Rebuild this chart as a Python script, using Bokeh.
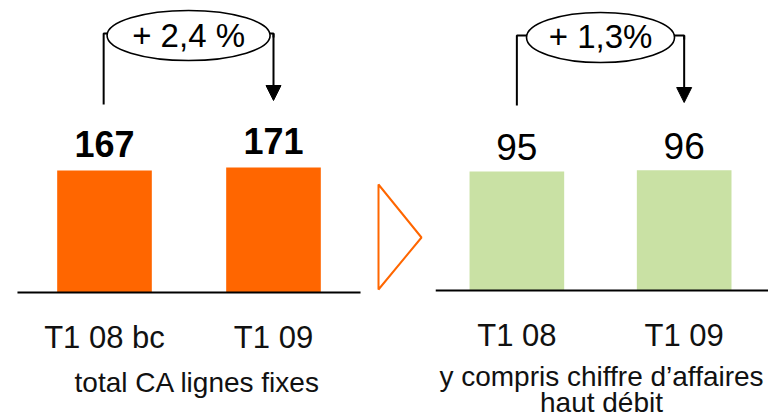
from bokeh.plotting import figure
from bokeh.models import Range1d, Arrow, NormalHead
from bokeh.core.properties import value
from bokeh.embed import file_html
from bokeh.resources import INLINE
import numpy as np

# ---- data ----
left_categories = ["T1 08 bc", "T1 09"]
left_values = [167, 171]
left_change = "+ 2,4 %"
left_title = ["total CA lignes fixes"]

right_categories = ["T1 08", "T1 09"]
right_values = [95, 96]
right_change = "+ 1,3%"
right_title = ["y compris chiffre d\u2019affaires", "haut d\u00e9bit"]

# ---- layout / styles ----
W, H = 768, 419
ORANGE = "#FF6600"
GREEN = "#C9E1A4"
FONT = value("Liberation Sans")

# x: one unit = spacing between two bars of a group
UNIT = 169.0
X0 = 104.0                       # page x of first bar centre
# y: separate scales for the two panels (truncated bars as in source)
L_BASE, L_K = 292.0, 0.7305      # baseline page y, px per unit
R_BASE, R_K = 290.0, 1.2527

p = figure(width=W, height=H, output_backend="svg", toolbar_location=None,
           min_border=0, x_axis_location=None, y_axis_location=None,
           x_range=Range1d(-X0 / UNIT, (W - X0) / UNIT),
           y_range=Range1d(-(H - L_BASE) / L_K, L_BASE / L_K))
p.extra_y_ranges = {"r": Range1d(-(H - R_BASE) / R_K, R_BASE / R_K)}
p.grid.visible = False
p.outline_line_color = None
p.background_fill_color = "white"

LR = p.y_range
RR = p.extra_y_ranges["r"]

def sx(s):
    r = p.x_range
    return r.start + s * (r.end - r.start) / W

def sy(s, rng=LR):
    return rng.start + (H - s) * (rng.end - rng.start) / H

def dpx(px, rng):
    return px * (rng.end - rng.start) / H

def base_fix(fs):
    # svg text baseline compensation (px upward)
    return 0.33 * fs

GROUP2 = 2.44
left_x = np.arange(len(left_values)) * 1.0
right_x = GROUP2 + np.arange(len(right_values)) * 0.99
BAR_W = 0.56

# bars
p.vbar(x=left_x, top=left_values, bottom=0, width=BAR_W, fill_color=ORANGE, line_color=None)
p.vbar(x=right_x, top=right_values, bottom=0, width=BAR_W, fill_color=GREEN, line_color=None,
       y_range_name="r")

# baselines
p.segment(x0=[left_x[0] - 0.515], x1=[left_x[-1] + 0.515], y0=[0], y1=[0],
          line_color="black", line_width=2)
p.segment(x0=[right_x[0] - 0.48], x1=[p.x_range.end], y0=[0], y1=[0],
          line_color="black", line_width=2, y_range_name="r")

# value labels
p.text(x=left_x, y=[v + dpx(15 + base_fix(36), LR) for v in left_values],
       text=[str(v) for v in left_values],
       text_font=FONT, text_font_size="36px", text_font_style="bold",
       text_align="center", text_baseline="alphabetic", text_color="black")
p.text(x=right_x, y=[v + dpx(12 + base_fix(37), RR) for v in right_values],
       text=[str(v) for v in right_values],
       text_font=FONT, text_font_size="37px", text_font_style="normal",
       text_align="center", text_baseline="alphabetic", text_color="black", y_range_name="r")

# category labels
p.text(x=left_x, y=[sy(347 - base_fix(31))] * 2, text=left_categories, text_font=FONT,
       text_font_size="31px", text_align="center", text_baseline="alphabetic", text_color="#111111")
p.text(x=right_x, y=[sy(345 - base_fix(31))] * 2, text=right_categories, text_font=FONT,
       text_font_size="31px", text_align="center", text_baseline="alphabetic", text_color="#111111")

# group titles
p.text(x=[sx(197)], y=[sy(391 - base_fix(28))], text=left_title, text_font=FONT,
       text_font_size="28px", text_align="center", text_baseline="alphabetic", text_color="#111111")
p.text(x=[sx(601)] * 2, y=[sy(385 - base_fix(28)), sy(411 - base_fix(28))], text=right_title,
       text_font=FONT, text_font_size="28px", text_align="center", text_baseline="alphabetic",
       text_color="#111111")

# separator triangle
p.patch(x=[sx(378), sx(421), sx(378), sx(378)], y=[sy(184), sy(237), sy(289), sy(184)],
        fill_alpha=0, line_color=ORANGE, line_width=2)

# growth brackets
def bracket(x0, x1, y_low, y_mid, y_tip, ell_w, text, base):
    p.line(x=[x0, x0, x1, x1], y=[sy(y_low), sy(y_mid), sy(y_mid), sy(y_mid + 4)],
           line_color="black", line_width=2)
    p.add_layout(Arrow(end=NormalHead(size=15, fill_color="black", line_color="black"),
                       x_start=x1, y_start=sy(y_mid), x_end=x1, y_end=sy(y_tip),
                       line_color="black", line_width=2))
    xm = (x0 + x1) / 2
    p.ellipse(x=[xm], y=[sy(y_mid + 2)], width=ell_w, height=50,
              width_units="screen", height_units="screen",
              fill_color="white", line_color="black", line_width=1.6)
    p.text(x=[xm], y=[sy(base - base_fix(33))], text=[text], text_font=FONT, text_font_size="33px",
           text_align="center", text_baseline="alphabetic", text_color="black")

bracket(left_x[0] - 0.005, left_x[1], 104, 33, 100, 163, left_change, 46)
bracket(right_x[0], right_x[1], 105, 35, 102, 148, right_change, 47)

open("out.html", "w").write(file_html(p, INLINE))
